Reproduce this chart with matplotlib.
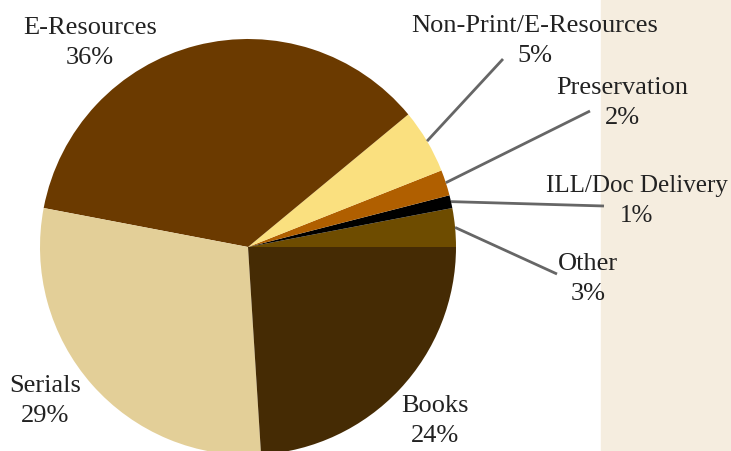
import numpy as np
import matplotlib.pyplot as plt

# slice data, counter-clockwise from 3 o'clock
labels = ['Other', 'ILL/Doc Delivery', 'Preservation', 'Non-Print/E-Resources',
          'E-Resources', 'Serials', 'Books']
values = [3, 1, 2, 5, 36, 29, 24]
colors = ['#6E4C00', '#000000', '#B05F00', '#FAE07F', '#6B3A00', '#E3CF98', '#452B04']

W, H = 731, 452
cx, cy, r = 248, H - 248, 208

plt.rcParams['font.family'] = ['Liberation Serif', 'DejaVu Serif']

fig = plt.figure(figsize=(W / 100, H / 100), dpi=100)
ax = fig.add_axes([0, 0, 1, 1])

# beige strip on the right
ax.axvspan(601, W, color='#F5EDDF', zorder=0)

wedges, _ = ax.pie(values, colors=colors, startangle=0, counterclock=True,
                   center=(cx, cy), radius=r, frame=True,
                   wedgeprops=dict(linewidth=0))
ax.set_xlim(0, W)
ax.set_ylim(0, H)
ax.axis('off')

# label centre positions (image pixels, y from top), font size, leader end point
label_pos = {
    'E-Resources': (90, 43, 19, None),
    'Non-Print/E-Resources': (535, 41, 19, (503, 60)),
    'Preservation': (622, 103, 19, (590, 112)),
    'ILL/Doc Delivery': (637, 201, 18, (604, 207)),
    'Other': (588, 279, 19, (557, 275)),
    'Books': (435, 421, 19, None),
    'Serials': (45, 401, 19, None),
}

for w, lab, v in zip(wedges, labels, values):
    tx, ty, fs, lead = label_pos[lab]
    if lead is not None:
        mid = np.deg2rad((w.theta1 + w.theta2) / 2)
        x0 = cx + r * np.cos(mid)
        y0 = cy + r * np.sin(mid)
        ax.plot([x0, lead[0]], [y0, H - lead[1]], color='#666666', lw=2,
                solid_capstyle='butt', zorder=3)
    ax.text(tx, H - ty, f'{lab}\n{v}%', ha='center', va='center',
            fontsize=fs, color='#222222', linespacing=1.5, zorder=4)

fig.savefig('out.png', dpi=100)
